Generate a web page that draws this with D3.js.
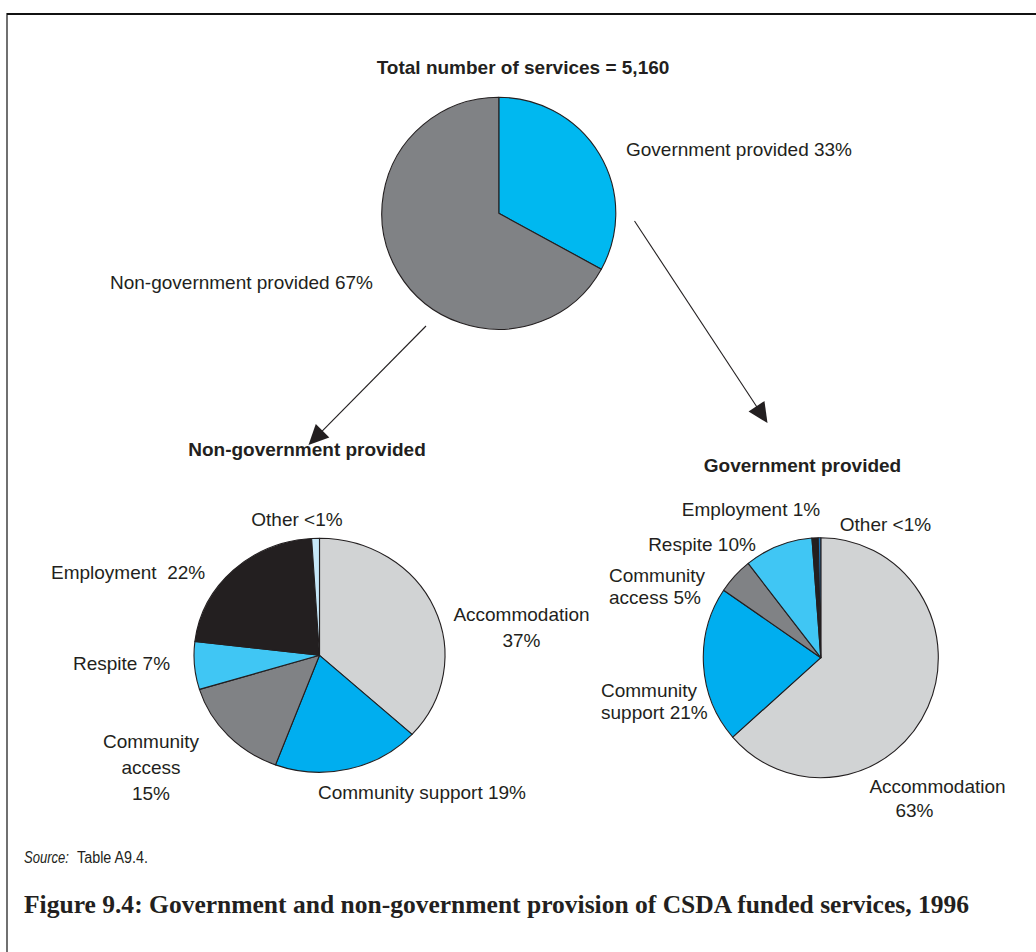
<!DOCTYPE html>
<html>
<head>
<meta charset="utf-8">
<script src="https://cdn.jsdelivr.net/npm/d3@7"></script>
<style>
  html, body { margin: 0; padding: 0; background: #fff; }
  svg { display: block; }
  text { font-family: "Liberation Sans", Arial, sans-serif; fill: #231f20; white-space: pre; }
</style>
</head>
<body>
<svg id="chart" width="1036" height="952"></svg>
<script>
// ---------- DATA ----------
const topTitle = "Total number of services = 5,160";
const topCategories = ["Government provided", "Non-government provided"];
const topValues = [33, 67];

const subCategories = ["Accommodation", "Community support", "Community access", "Respite", "Employment", "Other"];
const nonGovValues = [36.8, 18.9, 14.6, 6.6, 22.1, 1.0];
const govValues = [63.5, 21.0, 4.9, 9.4, 0.85, 0.35];

const nonGovTitle = "Non-government provided";
const govTitle = "Government provided";

const sourceLabel = "Source:";
const sourceText = "Table A9.4.";
const caption = "Figure 9.4: Government and non-government provision of CSDA funded services, 1996";

// ---------- DRAW ----------
const svg = d3.select("#chart");

// frame
svg.append("line").attr("x1", 7).attr("y1", 14).attr("x2", 1036).attr("y2", 14)
  .attr("stroke", "#111").attr("stroke-width", 2);
svg.append("line").attr("x1", 7).attr("y1", 13).attr("x2", 7).attr("y2", 952)
  .attr("stroke", "#111").attr("stroke-width", 1.2);

const pie = d3.pie().sort(null).value(d => d.value).startAngle(0).endAngle(2 * Math.PI);

function drawPie(cx, cy, rx, ry, cats, vals, colors) {
  const data = cats.map((c, i) => ({ cat: c, value: vals[i] }));
  const arc = d3.arc().innerRadius(0).outerRadius(ry);
  const g = svg.append("g").attr("transform", `translate(${cx},${cy}) scale(${rx / ry},1)`);
  g.selectAll("path").data(pie(data)).join("path")
    .attr("d", arc)
    .attr("fill", (d, i) => colors[i])
    .attr("stroke", "#231f20")
    .attr("stroke-width", 1.1)
    .attr("stroke-linejoin", "round")
    .attr("vector-effect", "non-scaling-stroke");
}

const topColors = ["#00b8f0", "#808285"];
const nonGovColors = ["#d1d3d4", "#00aeef", "#808285", "#40c6f4", "#231f20", "#c6e7f8"];
const govColors = ["#d1d3d4", "#00aeef", "#808285", "#40c6f4", "#231f20", "#1c75bc"];

drawPie(498.8, 213.3, 117, 116, topCategories, topValues, topColors);
drawPie(319.5, 655.3, 125.5, 117, subCategories, nonGovValues, nonGovColors);
drawPie(820.8, 657.7, 117.5, 120, subCategories, govValues, govColors);

// text helper
function label(x, y, str, opts = {}) {
  const t = svg.append("text").attr("x", x).attr("y", y).text(str)
    .attr("font-size", opts.size || 19)
    .attr("text-anchor", opts.anchor || "start");
  if (opts.bold) t.attr("font-weight", "bold");
  return t;
}

// titles
label(523, 74, topTitle, { bold: true, anchor: "middle" });
label(307, 456, nonGovTitle, { bold: true, anchor: "middle" });
label(802.5, 472, govTitle, { bold: true, anchor: "middle" });

// top pie labels
label(626, 156, `${topCategories[0]} ${topValues[0]}%`);
label(110, 289, `${topCategories[1]} ${topValues[1]}%`);

// non-government pie labels
label(297, 526, "Other <1%", { anchor: "middle" });
label(51, 579, "Employment  22%");
label(521.5, 621, "Accommodation", { anchor: "middle" });
label(521.5, 647, "37%", { anchor: "middle" });
label(121.5, 670, "Respite 7%", { anchor: "middle" });
label(151, 748, "Community", { anchor: "middle" });
label(151, 774, "access", { anchor: "middle" });
label(151, 800, "15%", { anchor: "middle" });
label(422, 799, "Community support 19%", { anchor: "middle" });

// government pie labels
label(751, 516, "Employment 1%", { anchor: "middle" });
label(885.5, 531, "Other <1%", { anchor: "middle" });
label(702, 551, "Respite 10%", { anchor: "middle" });
label(609, 582, "Community");
label(609, 604, "access 5%");
label(601, 697, "Community");
label(601, 719, "support 21%");
label(937.5, 793, "Accommodation", { anchor: "middle" });
label(914.5, 817, "63%", { anchor: "middle" });

// arrows
function arrow(x1, y1, x2, y2) {
  const len = 20, half = 9.5;
  const dx = x2 - x1, dy = y2 - y1, L = Math.hypot(dx, dy);
  const ux = dx / L, uy = dy / L;
  const bx = x2 - ux * len, by = y2 - uy * len;
  svg.append("path")
    .attr("d", d3.line()([[x1, y1], [bx + ux * 2, by + uy * 2]]))
    .attr("stroke", "#231f20").attr("stroke-width", 1.1).attr("fill", "none");
  svg.append("path")
    .attr("d", d3.line()([[x2, y2], [bx - uy * half, by + ux * half], [bx + uy * half, by - ux * half]]) + "Z")
    .attr("fill", "#231f20");
}
arrow(426, 326, 308.5, 445);
arrow(634.5, 221, 767.5, 423);

// source
svg.append("text").attr("x", 24).attr("y", 863).attr("font-size", 16)
  .attr("font-style", "italic")
  .attr("textLength", 45).attr("lengthAdjust", "spacingAndGlyphs")
  .text(sourceLabel);
svg.append("text").attr("x", 77).attr("y", 863).attr("font-size", 16)
  .attr("textLength", 71).attr("lengthAdjust", "spacingAndGlyphs")
  .text(sourceText);

// caption
svg.append("text").attr("x", 24).attr("y", 913)
  .style("font-family", "'Liberation Serif', 'DejaVu Serif', serif")
  .attr("font-weight", "bold").attr("font-size", 24.5)
  .attr("textLength", 945).attr("lengthAdjust", "spacingAndGlyphs")
  .text(caption);
</script>
</body>
</html>
